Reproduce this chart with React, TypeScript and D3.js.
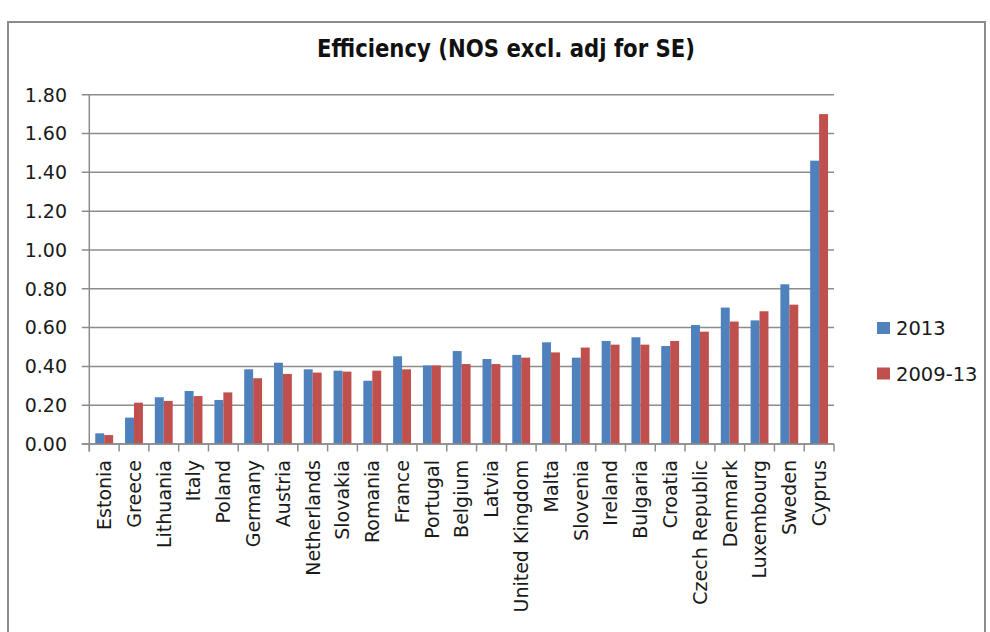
import React from 'react';
import * as d3 from 'd3';

const countries = [
  'Estonia', 'Greece', 'Lithuania', 'Italy', 'Poland', 'Germany', 'Austria', 'Netherlands',
  'Slovakia', 'Romania', 'France', 'Portugal', 'Belgium', 'Latvia', 'United Kingdom', 'Malta',
  'Slovenia', 'Ireland', 'Bulgaria', 'Croatia', 'Czech Republic', 'Denmark', 'Luxembourg',
  'Sweden', 'Cyprus'
];
const values2013 = [
  0.055, 0.136, 0.241, 0.273, 0.227, 0.385, 0.419, 0.385, 0.378, 0.326, 0.452, 0.405, 0.479,
  0.438, 0.459, 0.524, 0.445, 0.531, 0.55, 0.505, 0.613, 0.703, 0.637, 0.823, 1.46
];
const values0913 = [
  0.046, 0.213, 0.222, 0.247, 0.266, 0.339, 0.361, 0.368, 0.373, 0.378, 0.385, 0.405, 0.412,
  0.412, 0.445, 0.472, 0.497, 0.512, 0.512, 0.531, 0.579, 0.631, 0.684, 0.718, 1.7
];
const seriesNames = ['2013', '2009-13'];
const seriesColors = ['#4F81BD', '#C0504D'];
const yTicks = [0, 0.2, 0.4, 0.6, 0.8, 1.0, 1.2, 1.4, 1.6, 1.8];

const FONT = '"DejaVu Sans", sans-serif';

const App: React.FC = () => {
  const ref = React.useRef<SVGSVGElement>(null);

  React.useEffect(() => {
    const svg = d3.select(ref.current);
    svg.selectAll('*').remove();

    const left = 89.3, right = 834, top = 94.7, bottom = 444;

    // outer frame
    svg.append('rect')
      .attr('x', 8).attr('y', 22).attr('width', 977).attr('height', 700)
      .attr('fill', 'white').attr('stroke', '#8c8c8c').attr('stroke-width', 2);

    svg.append('text')
      .attr('x', 506).attr('y', 57)
      .attr('text-anchor', 'middle')
      .attr('font-family', FONT).attr('font-weight', 'bold').attr('font-size', 25)
      .attr('textLength', 378).attr('lengthAdjust', 'spacingAndGlyphs')
      .attr('fill', '#111')
      .text('Efficiency (NOS excl. adj for SE)');

    const x = d3.scaleBand<string>().domain(countries).range([left, right]).paddingInner(0);
    const y = d3.scaleLinear().domain([0, 1.8]).range([bottom, top]);
    const groupW = x.bandwidth() * 0.6;
    const xs = d3.scaleBand<string>().domain(seriesNames).range([0, groupW]);

    // gridlines + left ticks
    svg.append('g')
      .selectAll('line')
      .data(yTicks)
      .enter()
      .append('line')
      .attr('x1', left - 7.5).attr('x2', right)
      .attr('y1', (d: number) => y(d)).attr('y2', (d: number) => y(d))
      .attr('stroke', '#8c8c8c').attr('stroke-width', 1.5);

    svg.append('g')
      .selectAll('text')
      .data(yTicks)
      .enter()
      .append('text')
      .attr('x', 67).attr('y', (d: number) => y(d))
      .attr('dy', '0.36em')
      .attr('text-anchor', 'end')
      .attr('font-family', FONT).attr('font-size', 19)
      .attr('fill', '#1a1a1a')
      .text((d: number) => d3.format('.2f')(d));

    // bars
    const data = countries.map((c, i) => ({ c, vals: [values2013[i], values0913[i]] }));
    const groups = svg.append('g')
      .selectAll('g')
      .data(data)
      .enter()
      .append('g')
      .attr('transform', (d) => `translate(${(x(d.c) as number) + x.bandwidth() / 2 - groupW / 2},0)`);
    groups.selectAll('rect')
      .data((d) => d.vals.map((v, k) => ({ k, v })))
      .enter()
      .append('rect')
      .attr('x', (d) => xs(seriesNames[d.k]) as number)
      .attr('width', xs.bandwidth())
      .attr('y', (d) => y(d.v))
      .attr('height', (d) => bottom - y(d.v))
      .attr('fill', (d) => seriesColors[d.k]);

    // axes lines
    svg.append('line')
      .attr('x1', left).attr('x2', left).attr('y1', top).attr('y2', bottom + 7.5)
      .attr('stroke', '#8c8c8c').attr('stroke-width', 1.5);
    svg.append('line')
      .attr('x1', left - 7.5).attr('x2', right).attr('y1', bottom).attr('y2', bottom)
      .attr('stroke', '#8c8c8c').attr('stroke-width', 1.5);
    const boundaries = countries.map((c) => x(c) as number).concat([right]);
    svg.append('g')
      .selectAll('line')
      .data(boundaries)
      .enter()
      .append('line')
      .attr('x1', (d: number) => d).attr('x2', (d: number) => d)
      .attr('y1', bottom).attr('y2', bottom + 7.5)
      .attr('stroke', '#8c8c8c').attr('stroke-width', 1.5);

    // category labels
    svg.append('g')
      .selectAll('text')
      .data(countries)
      .enter()
      .append('text')
      .attr('transform', (d: string) => `translate(${(x(d) as number) + x.bandwidth() / 2},460) rotate(-90)`)
      .attr('dy', '0.36em')
      .attr('text-anchor', 'end')
      .attr('font-family', FONT).attr('font-size', 19)
      .attr('fill', '#1a1a1a')
      .text((d: string) => d);

    // legend
    const legend = svg.append('g')
      .selectAll('g')
      .data(seriesNames)
      .enter()
      .append('g')
      .attr('transform', (_d: string, i: number) => `translate(877,${328 + i * 45.5})`);
    legend.append('rect')
      .attr('x', 0).attr('y', -6).attr('width', 13).attr('height', 12)
      .attr('fill', (_d: string, i: number) => seriesColors[i]);
    legend.append('text')
      .attr('x', 19).attr('y', 0).attr('dy', '0.36em')
      .attr('font-family', FONT).attr('font-size', 19.5)
      .attr('fill', '#1a1a1a')
      .text((d: string) => d);
  }, []);

  return (
    <div style={{ position: 'absolute', left: 0, top: 0 }}>
      <svg ref={ref} width={990} height={632} style={{ display: 'block' }}></svg>
    </div>
  );
};

export default App;
